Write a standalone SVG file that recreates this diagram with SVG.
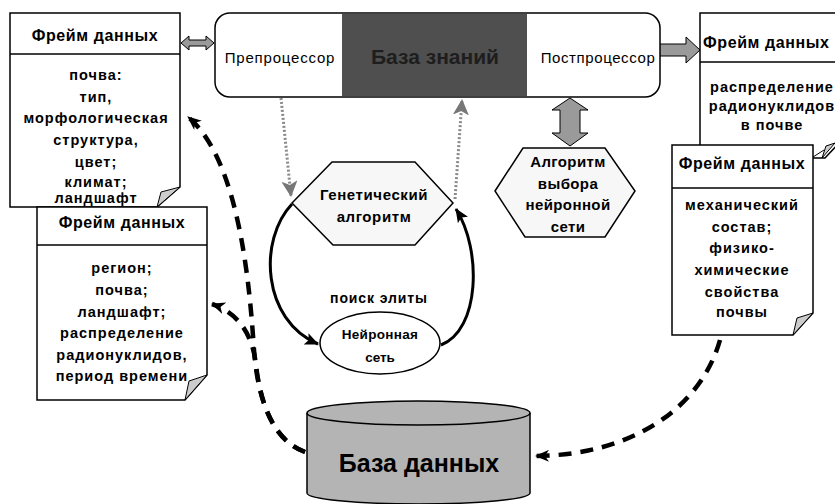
<svg xmlns="http://www.w3.org/2000/svg" width="835" height="504" viewBox="0 0 835 504">
<defs>
<style>
text{font-family:"Liberation Sans",Arial,sans-serif;fill:#000}
.t{font-size:16px;font-weight:bold;letter-spacing:0.6px}
.b{font-size:14.5px;font-weight:bold;letter-spacing:1px;text-anchor:middle}
.frame{fill:#fff;stroke:#000;stroke-width:1.5}
.hl{stroke:#000;stroke-width:1.5}
.fold{fill:#ccc;stroke:#000;stroke-width:1}
.hex{fill:#f7f7f7;stroke:#000;stroke-width:1.5}
.dash{fill:none;stroke:#000;stroke-width:4.5;stroke-dasharray:13 9}
.curve{fill:none;stroke:#000;stroke-width:3}
.gdot{fill:none;stroke:#8a8a8a;stroke-width:3;stroke-dasharray:2 2}
.garrow{fill:#9a9a9a;stroke:#000;stroke-width:1}
.hx{font-size:15px;font-weight:bold;text-anchor:middle;letter-spacing:0.4px}
</style>
<marker id="bar" viewBox="0 0 14 12" refX="13" refY="6" markerWidth="14" markerHeight="12" markerUnits="userSpaceOnUse" orient="auto">
<path d="M0,0 L14,6 L0,12 L4,6 Z" fill="#000"/>
</marker>
<marker id="blk" viewBox="0 0 14 12" refX="13" refY="6" markerWidth="14" markerHeight="12" markerUnits="userSpaceOnUse" orient="auto">
<path d="M0,0 L14,6 L0,12 L3,6 Z" fill="#000"/>
</marker>
<marker id="gry" viewBox="0 0 16 16" refX="15" refY="8" markerWidth="16" markerHeight="16" markerUnits="userSpaceOnUse" orient="auto">
<path d="M0,0 L16,8 L0,16 L4,8 Z" fill="#777"/>
</marker>
</defs>

<g id="connectors">
<path class="dash" d="M305,452 C272,440 258,400 254,350 C250,290 240,160 188,117" marker-end="url(#bar)"/>
<path class="dash" d="M305,452 C272,440 260,400 256,365 C252,330 235,312 212,304" marker-end="url(#bar)"/>
<path class="dash" d="M720,340 C700,410 630,455 536,456" marker-end="url(#bar)"/>
<path class="curve" d="M292,204 C258,240 262,320 318,344" marker-end="url(#blk)"/>
<path class="curve" d="M441,345 C480,330 482,250 456,209" marker-end="url(#blk)"/>
<path class="gdot" d="M281,98 L291,196" marker-end="url(#gry)"/>
<path class="gdot" d="M455,199 L462,100" marker-end="url(#gry)"/>
<path class="garrow" d="M181,43 L189,36 L189,40 L206,40 L206,36 L214,43 L206,50 L206,46 L189,46 L189,50 Z"/>
<path class="garrow" d="M659,44 H686 V37 L700,50 L686,63 V56 H659 Z"/>
<path class="garrow" d="M570,98 L588,110 L580,110 L580,133 L588,133 L570,146 L552,133 L560,133 L560,110 L552,110 Z"/>
</g>

<g id="kb-block">
<rect x="215" y="13" width="445" height="84" rx="15" fill="#fff" stroke="#000" stroke-width="1.5"/>
<rect x="342" y="14" width="185" height="82" fill="#4f4f4f"/>
<text x="280" y="63" style="font-size:15px;text-anchor:middle;letter-spacing:0.8px">Препроцессор</text>
<text x="435" y="64" style="font-size:21px;font-weight:bold;text-anchor:middle;fill:#1e1e1e">База знаний</text>
<text x="598" y="63" style="font-size:15px;text-anchor:middle;letter-spacing:0.6px">Постпроцессор</text>
</g>

<g id="frame-soil">
<path class="frame" d="M10,13 H180 V187 L157,207 H10 Z"/>
<line class="hl" x1="10" y1="54" x2="180" y2="54"/>
<path class="fold" d="M180,187 L161,192 L157,207 Z"/>
<text class="t" x="95" y="41" text-anchor="middle">Фрейм данных</text>
<text class="b" x="96" y="80">почва:</text>
<text class="b" x="96" y="102">тип,</text>
<text class="b" x="96" y="123">морфологическая</text>
<text class="b" x="96" y="145">структура,</text>
<text class="b" x="96" y="167">цвет;</text>
<text class="b" x="96" y="187">климат;</text>
<text class="b" x="96" y="203">ландшафт</text>
</g>

<g id="frame-region">
<path class="frame" d="M37,207 H207 V375 L185,400 H37 Z"/>
<line class="hl" x1="37" y1="245" x2="207" y2="245"/>
<path class="fold" d="M207,375 L189,381 L185,400 Z"/>
<text class="t" x="122" y="228" text-anchor="middle">Фрейм данных</text>
<text class="b" x="122" y="273">регион;</text>
<text class="b" x="122" y="295">почва;</text>
<text class="b" x="122" y="317">ландшафт;</text>
<text class="b" x="122" y="338">распределение</text>
<text class="b" x="122" y="360">радионуклидов,</text>
<text class="b" x="122" y="381">период времени</text>
</g>

<g id="frame-distribution">
<path class="frame" d="M700,13 H842 V140 L825,158 H700 Z"/>
<line class="hl" x1="700" y1="62" x2="842" y2="62"/>
<path class="fold" d="M835,143 L826,146 L822,158 Z"/>
<text class="t" x="703" y="48">Фрейм данных</text>
<text class="b" x="772" y="92">распределение</text>
<text class="b" x="772" y="111">радионуклидов</text>
<text class="b" x="772" y="130">в почве</text>
</g>

<g id="frame-properties">
<path class="frame" d="M672,145 H813 V313 L793,335 H672 Z"/>
<line class="hl" x1="672" y1="188" x2="813" y2="188"/>
<path class="fold" d="M813,313 L797,318 L793,335 Z"/>
<line x1="813" y1="157" x2="824" y2="150" stroke="#000" stroke-width="1"/>
<text class="t" x="742" y="169" text-anchor="middle">Фрейм данных</text>
<text class="b" x="742" y="210">механический</text>
<text class="b" x="742" y="232">состав;</text>
<text class="b" x="742" y="253">физико-</text>
<text class="b" x="742" y="275">химические</text>
<text class="b" x="742" y="297">свойства</text>
<text class="b" x="742" y="317">почвы</text>
</g>

<g id="genetic-algorithm">
<polygon class="hex" points="292,203 332,162 415,162 453,203 415,245 333,245"/>
<text class="hx" x="374" y="200" style="letter-spacing:0.6px">Генетический</text>
<text class="hx" x="374" y="222" style="letter-spacing:0.6px">алгоритм</text>
</g>

<g id="nn-selection">
<polygon class="hex" points="495,191 523,148 605,148 635,191 605,237 525,237"/>
<text class="hx" x="568" y="167">Алгоритм</text>
<text class="hx" x="568" y="189">выбора</text>
<text class="hx" x="568" y="210">нейронной</text>
<text class="hx" x="568" y="232">сети</text>
</g>

<g id="elite-label">
<text x="379" y="303" style="font-size:14px;font-weight:bold;text-anchor:middle;letter-spacing:0.9px">поиск элиты</text>
</g>

<g id="neural-net">
<ellipse cx="380" cy="343" rx="60" ry="31" fill="#fff" stroke="#000" stroke-width="1.5"/>
<text x="380" y="339" style="font-size:13.5px;font-weight:bold;text-anchor:middle;letter-spacing:0.3px">Нейронная</text>
<text x="380" y="362" style="font-size:13.5px;font-weight:bold;text-anchor:middle">сеть</text>
</g>

<g id="database">
<path d="M307,413 A111.5,12 0 0 1 530,413 V493 A111.5,11 0 0 1 307,493 Z" fill="#b4b4b4" stroke="#000" stroke-width="1.5"/>
<path d="M307,413 A111.5,12 0 0 0 530,413" fill="none" stroke="#000" stroke-width="1.5"/>
<text x="419" y="472" style="font-size:25px;font-weight:bold;text-anchor:middle">База данных</text>
</g>
</svg>
